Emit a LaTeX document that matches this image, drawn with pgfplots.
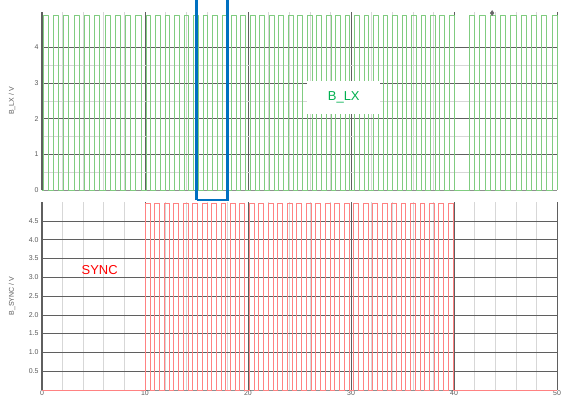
\documentclass[border=0pt]{standalone}
\usepackage{pgfplots}
\pgfplotsset{compat=1.18}
\usepackage{fontspec}
\setmainfont{Liberation Sans}
\definecolor{lxgreen}{RGB}{128,204,128}
\definecolor{lxtext}{RGB}{0,176,80}
\definecolor{syncred}{RGB}{255,130,130}
\definecolor{majgrid}{RGB}{95,95,95}
\definecolor{mingrid}{RGB}{215,215,215}
\definecolor{annblue}{RGB}{0,112,192}
\definecolor{ticktext}{RGB}{90,90,90}
\pgfplotsset{
  common/.style={
    scale only axis,
    width=515bp,
    xmin=0, xmax=50,
    ymin=0, ymax=5,
    axis lines=left,
    axis line style={-, draw=majgrid, line width=1.2bp},
    x axis line style={draw=majgrid!70, line width=0.8bp},
    major tick length=0pt, minor tick length=0pt,
    tick label style={font=\fontsize{7}{8}\selectfont, text=ticktext},
    /pgf/number format/assume math mode=true,
    xtick={0,10,20,30,40,50},
    minor x tick num=4,
    grid=both,
    major grid style={draw=majgrid, line width=0.6bp},
    minor grid style={draw=mingrid, line width=0.6bp},
    clip=false,
  }
}
\begin{document}
\begin{tikzpicture}
\path[use as bounding box] (-42bp,-10bp) rectangle (522bp,390bp);
\begin{axis}[common, at={(0,200bp)}, height=178bp,
  ytick={0,1,2,3,4}, minor y tick num=1,
  xticklabels={}]
\addplot[lxgreen, line width=0.6bp, line join=round] coordinates {
(0,0)
(0.1,0)(0.1,4.9)(0.6,4.9)(0.6,0)
(1.1,0)(1.1,4.9)(1.6,4.9)(1.6,0)
(2.1,0)(2.1,4.9)(2.6,4.9)(2.6,0)
(3.1,0)(3.1,4.9)(3.6,4.9)(3.6,0)
(4.1,0)(4.1,4.9)(4.6,4.9)(4.6,0)
(5.1,0)(5.1,4.9)(5.6,4.9)(5.6,0)
(6.1,0)(6.1,4.9)(6.6,4.9)(6.6,0)
(7.1,0)(7.1,4.9)(7.6,4.9)(7.6,0)
(8.1,0)(8.1,4.9)(8.6,4.9)(8.6,0)
(9.1,0)(9.1,4.9)(9.6,4.9)(9.6,0)
(10.10,0)(10.10,4.9)(10.56,4.9)(10.56,0)
(11.02,0)(11.02,4.9)(11.48,4.9)(11.48,0)
(11.94,0)(11.94,4.9)(12.40,4.9)(12.40,0)
(12.86,0)(12.86,4.9)(13.32,4.9)(13.32,0)
(13.78,0)(13.78,4.9)(14.24,4.9)(14.24,0)
(14.70,0)(14.70,4.9)(15.16,4.9)(15.16,0)
(15.62,0)(15.62,4.9)(16.08,4.9)(16.08,0)
(16.54,0)(16.54,4.9)(17.00,4.9)(17.00,0)
(17.46,0)(17.46,4.9)(17.92,4.9)(17.92,0)
(18.38,0)(18.38,4.9)(18.84,4.9)(18.84,0)
(19.30,0)(19.30,4.9)(19.76,4.9)(19.76,0)
(20.22,0)(20.22,4.9)(20.68,4.9)(20.68,0)
(21.14,0)(21.14,4.9)(21.60,4.9)(21.60,0)
(22.06,0)(22.06,4.9)(22.52,4.9)(22.52,0)
(22.98,0)(22.98,4.9)(23.44,4.9)(23.44,0)
(23.90,0)(23.90,4.9)(24.36,4.9)(24.36,0)
(24.82,0)(24.82,4.9)(25.28,4.9)(25.28,0)
(25.74,0)(25.74,4.9)(26.20,4.9)(26.20,0)
(26.66,0)(26.66,4.9)(27.12,4.9)(27.12,0)
(27.58,0)(27.58,4.9)(28.04,4.9)(28.04,0)
(28.50,0)(28.50,4.9)(28.96,4.9)(28.96,0)
(29.42,0)(29.42,4.9)(29.88,4.9)(29.88,0)
(30.34,0)(30.34,4.9)(30.80,4.9)(30.80,0)
(31.26,0)(31.26,4.9)(31.72,4.9)(31.72,0)
(32.18,0)(32.18,4.9)(32.64,4.9)(32.64,0)
(33.10,0)(33.10,4.9)(33.56,4.9)(33.56,0)
(34.02,0)(34.02,4.9)(34.48,4.9)(34.48,0)
(34.94,0)(34.94,4.9)(35.40,4.9)(35.40,0)
(35.86,0)(35.86,4.9)(36.32,4.9)(36.32,0)
(36.78,0)(36.78,4.9)(37.24,4.9)(37.24,0)
(37.70,0)(37.70,4.9)(38.16,4.9)(38.16,0)
(38.62,0)(38.62,4.9)(39.08,4.9)(39.08,0)
(39.54,0)(39.54,4.9)(40.00,4.9)(40.00,0)
(41.5,0)(41.5,4.9)(42.0,4.9)(42.0,0)
(42.5,0)(42.5,4.9)(43.0,4.9)(43.0,0)
(43.5,0)(43.5,4.9)(44.0,4.9)(44.0,0)
(44.5,0)(44.5,4.9)(45.0,4.9)(45.0,0)
(45.5,0)(45.5,4.9)(46.0,4.9)(46.0,0)
(46.5,0)(46.5,4.9)(47.0,4.9)(47.0,0)
(47.5,0)(47.5,4.9)(48.0,4.9)(48.0,0)
(48.5,0)(48.5,4.9)(49.0,4.9)(49.0,0)
(49.5,0)(49.5,4.9)(50.0,4.9)(50.0,0)
};
\addplot[only marks, mark=diamond*, mark size=2.5bp, color=gray!80!black] coordinates {(43.7,4.97)};
\node[fill=white, text=lxtext, font=\fontsize{13}{15}\selectfont, minimum width=73bp, minimum height=33bp, inner sep=0pt] at (axis cs:29.3,2.6) {B\_LX};
\node[rotate=90, text=ticktext, font=\fontsize{7}{8}\selectfont] at ([xshift=-30bp]rel axis cs:0,0.5) {B\_LX / V};
\draw[annblue, line width=2.5bp] (axis cs:15,-0.28) -- (axis cs:15,5.6) (axis cs:18,5.6) -- (axis cs:18,-0.28) -- (axis cs:15,-0.28);
\end{axis}
\begin{axis}[common, at={(0,0)}, height=188bp,
  ytick={0.5,1.0,1.5,2.0,2.5,3.0,3.5,4.0,4.5},
  yticklabel style={/pgf/number format/.cd, fixed, fixed zerofill, precision=1},
  xticklabel style={yshift=3bp}]
\addplot[syncred, line width=0.6bp] coordinates {
(0,0)
(10.00,0)(10.00,4.97)(10.48,4.97)(10.48,0)
(10.92,0)(10.92,4.97)(11.40,4.97)(11.40,0)
(11.84,0)(11.84,4.97)(12.32,4.97)(12.32,0)
(12.76,0)(12.76,4.97)(13.24,4.97)(13.24,0)
(13.68,0)(13.68,4.97)(14.16,4.97)(14.16,0)
(14.60,0)(14.60,4.97)(15.08,4.97)(15.08,0)
(15.52,0)(15.52,4.97)(16.00,4.97)(16.00,0)
(16.44,0)(16.44,4.97)(16.92,4.97)(16.92,0)
(17.36,0)(17.36,4.97)(17.84,4.97)(17.84,0)
(18.28,0)(18.28,4.97)(18.76,4.97)(18.76,0)
(19.20,0)(19.20,4.97)(19.68,4.97)(19.68,0)
(20.12,0)(20.12,4.97)(20.60,4.97)(20.60,0)
(21.04,0)(21.04,4.97)(21.52,4.97)(21.52,0)
(21.96,0)(21.96,4.97)(22.44,4.97)(22.44,0)
(22.88,0)(22.88,4.97)(23.36,4.97)(23.36,0)
(23.80,0)(23.80,4.97)(24.28,4.97)(24.28,0)
(24.72,0)(24.72,4.97)(25.20,4.97)(25.20,0)
(25.64,0)(25.64,4.97)(26.12,4.97)(26.12,0)
(26.56,0)(26.56,4.97)(27.04,4.97)(27.04,0)
(27.48,0)(27.48,4.97)(27.96,4.97)(27.96,0)
(28.40,0)(28.40,4.97)(28.88,4.97)(28.88,0)
(29.32,0)(29.32,4.97)(29.80,4.97)(29.80,0)
(30.24,0)(30.24,4.97)(30.72,4.97)(30.72,0)
(31.16,0)(31.16,4.97)(31.64,4.97)(31.64,0)
(32.08,0)(32.08,4.97)(32.56,4.97)(32.56,0)
(33.00,0)(33.00,4.97)(33.48,4.97)(33.48,0)
(33.92,0)(33.92,4.97)(34.40,4.97)(34.40,0)
(34.84,0)(34.84,4.97)(35.32,4.97)(35.32,0)
(35.76,0)(35.76,4.97)(36.24,4.97)(36.24,0)
(36.68,0)(36.68,4.97)(37.16,4.97)(37.16,0)
(37.60,0)(37.60,4.97)(38.08,4.97)(38.08,0)
(38.52,0)(38.52,4.97)(39.00,4.97)(39.00,0)
(39.44,0)(39.44,4.97)(39.95,4.97)(39.95,0)
(50,0)
};
\node[text=red, font=\fontsize{13}{15}\selectfont] at (axis cs:5.6,3.19) {SYNC};
\node[rotate=90, text=ticktext, font=\fontsize{7}{8}\selectfont] at ([xshift=-30bp]rel axis cs:0,0.5) {B\_SYNC / V};
\end{axis}
\end{tikzpicture}
\end{document}
